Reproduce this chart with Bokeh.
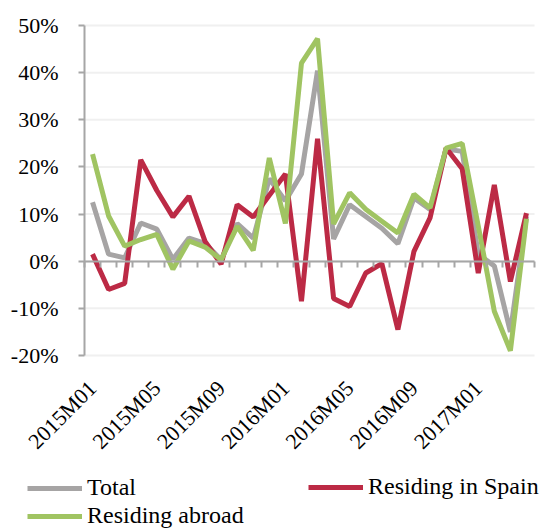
import math
from bokeh.plotting import figure
from bokeh.models import (Range1d, LinearAxis, FixedTicker, PrintfTickFormatter,
                          Legend, LegendItem)
from bokeh.core.properties import value
from bokeh.embed import file_html
from bokeh.resources import INLINE

months = ["2015M01", "2015M02", "2015M03", "2015M04", "2015M05", "2015M06", "2015M07",
          "2015M08", "2015M09", "2015M10", "2015M11", "2015M12", "2016M01", "2016M02",
          "2016M03", "2016M04", "2016M05", "2016M06", "2016M07", "2016M08", "2016M09",
          "2016M10", "2016M11", "2016M12", "2017M01", "2017M02", "2017M03", "2017M04"]
label_every = 4

total = [12.5, 1.5, 0.7, 8.1, 6.8, 0.4, 4.9, 3.8, 0.3, 8.0, 4.9, 17.5, 12.8, 18.5,
         40.4, 4.7, 12.0, 9.5, 7.0, 3.7, 13.4, 11.0, 23.8, 23.3, 1.5, -1.0, -15.0, 9.5]
spain = [1.5, -6.0, -4.7, 21.5, 15.0, 9.4, 13.8, 4.2, -0.6, 12.0, 9.4, 14.0, 18.5, -8.5,
         26.0, -7.9, -9.6, -2.5, -0.5, -14.5, 2.1, 9.2, 24.0, 19.6, -2.5, 16.2, -4.3, 10.2]
abroad = [22.7, 9.6, 3.2, 4.6, 5.7, -1.7, 4.3, 3.0, 0.3, 7.4, 2.3, 21.9, 8.0, 42.0,
          47.2, 7.9, 14.5, 11.0, 8.5, 6.0, 14.2, 11.3, 24.0, 25.0, 7.5, -10.6, -19.0, 9.0]

series_names = ["Total", "Residing in Spain", "Residing abroad"]
series_colors = ["#A6A4A4", "#BC2A45", "#A0C462"]
y_ticks = [-20, -10, 0, 10, 20, 30, 40, 50]

FONT = "Liberation Serif"
FS = "22px"
LEG_FS = "24px"
AXIS_GRAY = "#A6A6A6"
GRID_GRAY = "#F0F0F0"

# layout constants (pixels); the frame fills the whole canvas
W, H = 555, 529
PL, PT, PW, PH = 84, 25, 450, 330      # plot area inside the canvas
LABEL_PY = 384                          # anchor row of rotated category labels

n = len(months)
xs = [i + 0.5 for i in range(n)]
ymin, ymax = y_ticks[0], y_ticks[-1]
sx = PW / n
sy = PH / (ymax - ymin)
x_range = Range1d(-PL / sx, (W - PL) / sx)
y_range = Range1d(ymin - (H - PT - PH) / sy, ymax + PT / sy)
y_label = ymax - (LABEL_PY - PT) / sy

p = figure(width=W, height=H, output_backend="svg", toolbar_location=None,
           x_range=x_range, y_range=y_range,
           x_axis_type=None, y_axis_type=None, min_border=0)
p.outline_line_color = None
p.background_fill_color = "white"

# horizontal grid lines, bounded to the plot area
p.segment(x0=[0] * len(y_ticks), x1=[n] * len(y_ticks), y0=y_ticks, y1=y_ticks,
          line_color=GRID_GRAY, line_width=2)

# left value axis
yax = LinearAxis(ticker=FixedTicker(ticks=y_ticks),
                 formatter=PrintfTickFormatter(format="%d%%"),
                 fixed_location=0, bounds=(ymin, ymax))
yax.axis_line_color = AXIS_GRAY
yax.axis_line_width = 2
yax.major_tick_line_color = AXIS_GRAY
yax.major_tick_line_width = 2
yax.major_tick_out = 6
yax.major_tick_in = 0
yax.minor_tick_line_color = None
yax.major_label_text_font = FONT
yax.major_label_text_font_size = FS
yax.major_label_text_color = "#000000"
yax.major_label_standoff = 20
p.add_layout(yax, "left")

# zero line axis with category boundary ticks
zax = LinearAxis(ticker=FixedTicker(ticks=list(range(n + 1))), fixed_location=0,
                 bounds=(0, n))
zax.axis_line_color = AXIS_GRAY
zax.axis_line_width = 2
zax.major_tick_line_color = AXIS_GRAY
zax.major_tick_line_width = 2
zax.major_tick_out = 6
zax.major_tick_in = 0
zax.minor_tick_line_color = None
zax.major_label_text_font_size = "0px"
zax.major_label_text_color = None
p.add_layout(zax, "below")

rs = [p.line(xs, ys, line_color=c, line_width=5)
      for ys, c in zip([total, spain, abroad], series_colors)]

# rotated category labels
lab_x = [xs[i] for i in range(0, n, label_every)]
lab_t = [months[i] for i in range(0, n, label_every)]
p.text(x=lab_x, y=[y_label] * len(lab_x), text=lab_t, angle=math.pi / 4,
       text_align="right", text_baseline="middle", text_font=value(FONT),
       text_font_size=value(FS), text_color="#000000")

def make_legend(items, loc):
    lg = Legend(items=items, location=loc, orientation="vertical")
    lg.label_text_font = FONT
    lg.label_text_font_size = LEG_FS
    lg.label_text_color = "#000000"
    lg.glyph_width = 55
    lg.glyph_height = 22
    lg.label_height = 22
    lg.label_standoff = 5
    lg.spacing = 1
    lg.padding = 0
    lg.margin = 0
    lg.border_line_color = None
    lg.background_fill_alpha = 0
    return lg

lg1 = make_legend([LegendItem(label=series_names[0], renderers=[rs[0]]),
                   LegendItem(label=series_names[2], renderers=[rs[2]])], (27, 0))
lg2 = make_legend([LegendItem(label=series_names[1], renderers=[rs[1]])], (308, 29))
p.add_layout(lg1, "center")
p.add_layout(lg2, "center")

open("out.html", "w").write(file_html(p, INLINE))
